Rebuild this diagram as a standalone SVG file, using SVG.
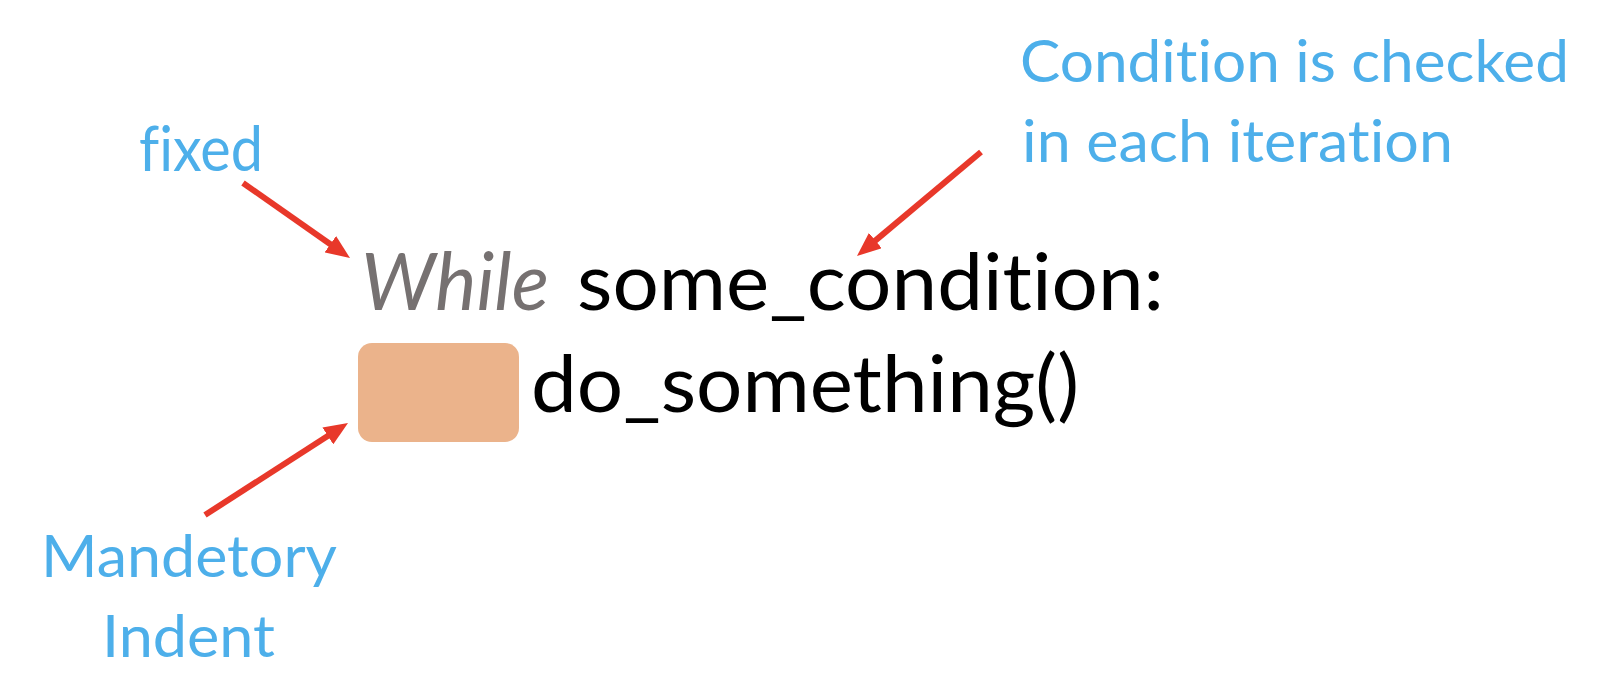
<svg xmlns="http://www.w3.org/2000/svg" width="1624" height="700" viewBox="0 0 1624 700">
<style>
text{font-variant-ligatures:none;font-feature-settings:"liga" 0,"clig" 0}
.lbl{font-family:Lato,"Open Sans","Liberation Sans",sans-serif;fill:#4DAFEA}
.code{font-family:Lato,"Open Sans","Liberation Sans",sans-serif;fill:#000;font-size:80px}
.kw{fill:#767171;font-style:italic}
.arr{stroke:#E8382A;stroke-width:6;fill:none;marker-end:url(#ah)}
</style>
<defs>
<marker id="ah" markerUnits="userSpaceOnUse" markerWidth="24" markerHeight="20" refX="4" refY="10" orient="auto" viewBox="0 0 24 20">
<path d="M0,0 L24,10 L0,20 z" fill="#E8382A"/>
</marker>
</defs>
<rect width="1624" height="700" fill="#fff"/>
<g id="code">
<text class="code kw" x="361" y="310" textLength="188" lengthAdjust="spacingAndGlyphs">While</text>
<text class="code" x="577" y="310" textLength="587" lengthAdjust="spacingAndGlyphs">some_condition:</text>
<text class="code" x="531" y="412" textLength="548" lengthAdjust="spacingAndGlyphs">do_something()</text>
</g>
<g id="indent">
<rect x="358" y="343" width="161" height="99" rx="14" ry="14" fill="#EBB38B"/>
</g>
<g id="label-fixed">
<text class="lbl" x="139" y="171" font-size="62" textLength="124" lengthAdjust="spacingAndGlyphs">fixed</text>
</g>
<g id="label-condition">
<text class="lbl" x="1020" y="82" font-size="58" textLength="549" lengthAdjust="spacingAndGlyphs">Condition is checked</text>
<text class="lbl" x="1022" y="162" font-size="58" textLength="431" lengthAdjust="spacingAndGlyphs">in each iteration</text>
</g>
<g id="label-indent">
<text class="lbl" x="41" y="577" font-size="59" textLength="296" lengthAdjust="spacingAndGlyphs">Mandetory</text>
<text class="lbl" x="102" y="657" font-size="59" textLength="173" lengthAdjust="spacingAndGlyphs">Indent</text>
</g>
<g id="connectors">
<line class="arr" x1="243" y1="183" x2="333.6" y2="246.5"/>
<line class="arr" x1="981" y1="152" x2="872.3" y2="243.1"/>
<line class="arr" x1="205" y1="515" x2="331.2" y2="433.8"/>
</g>
</svg>
